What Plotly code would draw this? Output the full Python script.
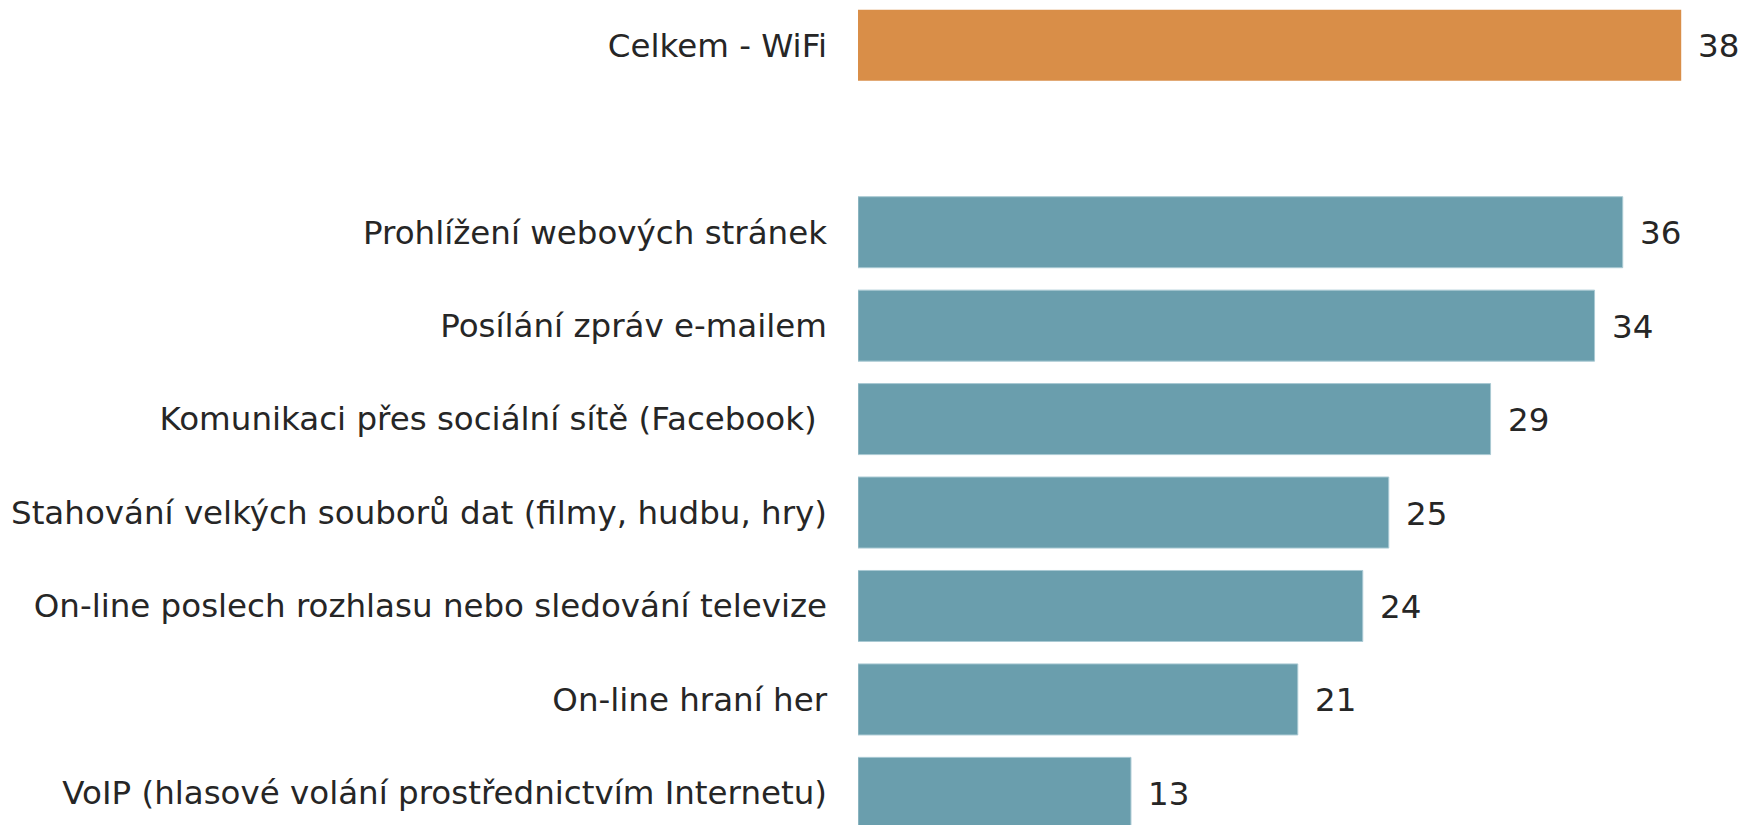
import plotly.graph_objects as go

categories = [
    "Celkem - WiFi",
    " ",
    "Prohlížení webových stránek",
    "Posílání zpráv e-mailem",
    "Komunikaci přes sociální sítě (Facebook)\u00a0",
    "Stahování velkých souborů dat (filmy, hudbu, hry)",
    "On-line poslech rozhlasu nebo sledování televize",
    "On-line hraní her",
    "VoIP (hlasové volání prostřednictvím Internetu)",
]

total_cat = ["Celkem - WiFi"]
total_val = [38.0]
total_lbl = ["38"]

item_cats = categories[2:]
item_vals = [35.3, 34.0, 29.2, 24.5, 23.3, 20.3, 12.6]
item_lbls = ["36", "34", "29", "25", "24", "21", "13"]

FONT = "DejaVu Sans, Verdana, sans-serif"
TXT = "#262626"
FS = 32.5

fig = go.Figure()
fig.add_trace(go.Bar(y=total_cat, x=total_val, orientation="h",
                     marker=dict(color="#D98E48", line=dict(width=0)),
                     showlegend=False, hoverinfo="x+y"))
fig.add_trace(go.Bar(y=item_cats, x=item_vals, orientation="h",
                     marker=dict(color="#6A9EAD", line=dict(width=1, color="#A9C9D3")),
                     showlegend=False, hoverinfo="x+y"))

for c, v, t in zip(total_cat + item_cats, total_val + item_vals, total_lbl + item_lbls):
    fig.add_annotation(x=v, y=c, text=t, showarrow=False, xanchor="left",
                       xshift=15, yshift=-1, font=dict(family=FONT, size=FS, color=TXT))

fig.update_layout(
    width=1741, height=825,
    margin=dict(l=858, r=0, t=0, b=0),
    paper_bgcolor="white", plot_bgcolor="white",
    barmode="overlay", bargap=0.24,
    font=dict(family=FONT, size=FS, color=TXT),
    xaxis=dict(range=[0, 40.76], visible=False, showgrid=False, zeroline=False),
    yaxis=dict(categoryorder="array", categoryarray=categories,
               range=[8.3437, -0.4848], showgrid=False, zeroline=False,
               showline=False, ticks="", ticklabelstandoff=30,
               tickfont=dict(family=FONT, size=FS, color=TXT)),
)

fig.write_html("out.html",
               config={"displayModeBar": False},
               post_script="document.body.style.margin='0';document.body.style.overflow='hidden';")
